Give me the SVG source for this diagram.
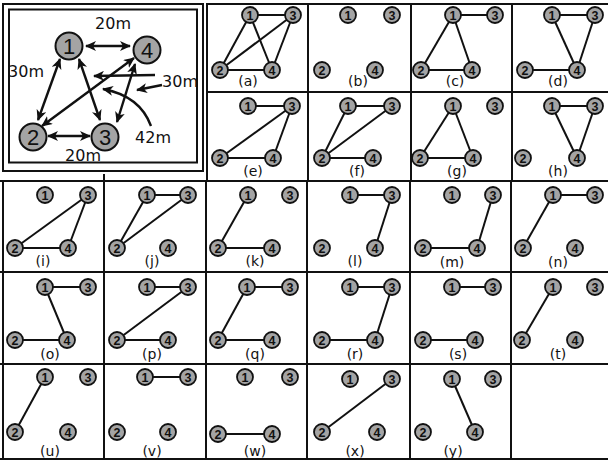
<svg xmlns="http://www.w3.org/2000/svg" width="608" height="463" viewBox="0 0 608 463">
<style>
.grid{stroke:#111;stroke-width:2;fill:none}
.e{stroke:#111;stroke-width:2;fill:none}
.a{stroke:#111;stroke-width:2.4;fill:none}
.node circle{fill:#a4a4a4;stroke:#111;stroke-width:1.8}
.node text{font-family:"Liberation Sans",Arial,sans-serif;font-size:12.5px;font-weight:bold;fill:#111;text-anchor:middle}
.big circle{fill:#a4a4a4;stroke:#111;stroke-width:2}
.big text{font-family:"Liberation Sans",Arial,sans-serif;font-size:22px;fill:#111;text-anchor:middle}
.lab{font-family:"DejaVu Sans",sans-serif;font-size:14px;fill:#111;text-anchor:middle}
.dist{font-family:"DejaVu Sans",sans-serif;font-size:16px;fill:#111;text-anchor:middle}
</style>
<defs>
<marker id="ah" viewBox="0 0 12 10" markerWidth="12" markerHeight="10" refX="10" refY="5" markerUnits="userSpaceOnUse" orient="auto-start-reverse">
<path d="M0,0 L11,5 L0,10 L3,5 z" fill="#111"/>
</marker>
</defs>
<rect width="608" height="463" fill="#fff"/>
<g id="grid">
<rect class="grid" x="3" y="4" width="200" height="167"/>
<rect class="grid" x="9" y="9.5" width="188" height="153"/>
<line class="grid" x1="207" y1="4" x2="608" y2="4"/>
<line class="grid" x1="207" y1="92" x2="608" y2="92"/>
<line class="grid" x1="0" y1="181" x2="608" y2="181"/>
<line class="grid" x1="0" y1="272" x2="608" y2="272"/>
<line class="grid" x1="0" y1="364" x2="608" y2="364"/>
<line class="grid" x1="0" y1="459" x2="608" y2="459"/>
<line class="grid" x1="207" y1="3" x2="207" y2="181"/>
<line class="grid" x1="308" y1="3" x2="308" y2="181"/>
<line class="grid" x1="411" y1="3" x2="411" y2="181"/>
<line class="grid" x1="512" y1="3" x2="512" y2="181"/>
<line class="grid" x1="3" y1="181" x2="3" y2="460"/>
<line class="grid" x1="104" y1="174" x2="104" y2="460"/>
<line class="grid" x1="206" y1="181" x2="206" y2="460"/>
<line class="grid" x1="307" y1="181" x2="307" y2="460"/>
<line class="grid" x1="410" y1="181" x2="410" y2="460"/>
<line class="grid" x1="511" y1="181" x2="511" y2="460"/>
</g>
<g id="connectors">
<line class="a" x1="86" y1="46" x2="130" y2="46" marker-start="url(#ah)" marker-end="url(#ah)"/>
<line class="a" x1="60" y1="59" x2="38" y2="120" marker-start="url(#ah)" marker-end="url(#ah)"/>
<line class="a" x1="79" y1="59" x2="100" y2="120" marker-start="url(#ah)" marker-end="url(#ah)"/>
<line class="a" x1="134" y1="58" x2="42" y2="126" marker-start="url(#ah)" marker-end="url(#ah)"/>
<line class="a" x1="135" y1="64" x2="117" y2="122" marker-start="url(#ah)" marker-end="url(#ah)"/>
<line class="a" x1="48" y1="136" x2="90" y2="136" marker-start="url(#ah)" marker-end="url(#ah)"/>
<line class="a" x1="155" y1="75" x2="94" y2="76" marker-end="url(#ah)"/>
<line class="a" x1="162" y1="85" x2="137" y2="90" marker-end="url(#ah)"/>
<path class="a" d="M151,126 Q140,96 103,89" marker-end="url(#ah)"/>
<line class="e" x1="250" y1="15" x2="293" y2="15"/><line class="e" x1="250" y1="15" x2="220" y2="70"/><line class="e" x1="250" y1="15" x2="272" y2="70"/><line class="e" x1="220" y1="70" x2="293" y2="15"/><line class="e" x1="293" y1="15" x2="272" y2="70"/><line class="e" x1="220" y1="70" x2="272" y2="70"/>
<line class="e" x1="453" y1="15" x2="495" y2="15"/><line class="e" x1="453" y1="15" x2="421" y2="70"/><line class="e" x1="453" y1="15" x2="472" y2="70"/><line class="e" x1="421" y1="70" x2="472" y2="70"/>
<line class="e" x1="552" y1="15" x2="595" y2="15"/><line class="e" x1="552" y1="15" x2="577" y2="70"/><line class="e" x1="595" y1="15" x2="577" y2="70"/><line class="e" x1="525" y1="70" x2="577" y2="70"/>
<line class="e" x1="248" y1="106" x2="292" y2="106"/><line class="e" x1="220" y1="158" x2="292" y2="106"/><line class="e" x1="292" y1="106" x2="273" y2="158"/><line class="e" x1="220" y1="158" x2="273" y2="158"/>
<line class="e" x1="348" y1="106" x2="392" y2="106"/><line class="e" x1="348" y1="106" x2="322" y2="158"/><line class="e" x1="322" y1="158" x2="392" y2="106"/><line class="e" x1="322" y1="158" x2="373" y2="158"/>
<line class="e" x1="453" y1="106" x2="420" y2="158"/><line class="e" x1="453" y1="106" x2="473" y2="158"/><line class="e" x1="420" y1="158" x2="473" y2="158"/>
<line class="e" x1="552" y1="106" x2="595" y2="106"/><line class="e" x1="552" y1="106" x2="577" y2="158"/><line class="e" x1="595" y1="106" x2="577" y2="158"/>
<line class="e" x1="15" y1="248" x2="88" y2="195"/><line class="e" x1="88" y1="195" x2="68" y2="248"/><line class="e" x1="15" y1="248" x2="68" y2="248"/>
<line class="e" x1="147" y1="195" x2="188" y2="195"/><line class="e" x1="147" y1="195" x2="117" y2="248"/><line class="e" x1="117" y1="248" x2="188" y2="195"/>
<line class="e" x1="248" y1="195" x2="218" y2="248"/><line class="e" x1="218" y1="248" x2="272" y2="248"/>
<line class="e" x1="350" y1="195" x2="392" y2="195"/><line class="e" x1="392" y1="195" x2="375" y2="248"/>
<line class="e" x1="493" y1="195" x2="477" y2="248"/><line class="e" x1="423" y1="248" x2="477" y2="248"/>
<line class="e" x1="553" y1="195" x2="595" y2="195"/><line class="e" x1="553" y1="195" x2="523" y2="248"/>
<line class="e" x1="45" y1="287" x2="88" y2="287"/><line class="e" x1="45" y1="287" x2="67" y2="340"/><line class="e" x1="15" y1="340" x2="67" y2="340"/>
<line class="e" x1="147" y1="287" x2="188" y2="287"/><line class="e" x1="117" y1="340" x2="188" y2="287"/><line class="e" x1="117" y1="340" x2="168" y2="340"/>
<line class="e" x1="247" y1="287" x2="290" y2="287"/><line class="e" x1="247" y1="287" x2="218" y2="340"/><line class="e" x1="218" y1="340" x2="272" y2="340"/>
<line class="e" x1="350" y1="287" x2="392" y2="287"/><line class="e" x1="392" y1="287" x2="375" y2="340"/><line class="e" x1="322" y1="340" x2="375" y2="340"/>
<line class="e" x1="452" y1="287" x2="493" y2="287"/><line class="e" x1="423" y1="340" x2="475" y2="340"/>
<line class="e" x1="553" y1="287" x2="522" y2="340"/>
<line class="e" x1="45" y1="377" x2="15" y2="432"/>
<line class="e" x1="145" y1="377" x2="188" y2="377"/>
<line class="e" x1="218" y1="434" x2="272" y2="434"/>
<line class="e" x1="322" y1="432" x2="392" y2="379"/>
<line class="e" x1="452" y1="379" x2="475" y2="432"/>
</g>
<g id="main-labels">
<text class="dist" x="113" y="29">20m</text>
<text class="dist" x="26" y="77">30m</text>
<text class="dist" x="180" y="87">30m</text>
<text class="dist" x="153" y="143">42m</text>
<text class="dist" x="83" y="161">20m</text>
</g>
<g id="M1" class="big"><circle cx="69" cy="46" r="13.5"/><text x="69" y="54">1</text></g>
<g id="M4" class="big"><circle cx="147" cy="50" r="13.5"/><text x="147" y="58">4</text></g>
<g id="M2" class="big"><circle cx="33" cy="137" r="13.5"/><text x="33" y="145">2</text></g>
<g id="M3" class="big"><circle cx="105" cy="137" r="13.5"/><text x="105" y="145">3</text></g>

<g id="a1" class="node"><circle cx="250" cy="15" r="8"/><text x="250" y="19.5">1</text></g>
<g id="a3" class="node"><circle cx="293" cy="15" r="8"/><text x="293" y="19.5">3</text></g>
<g id="a2" class="node"><circle cx="220" cy="70" r="8"/><text x="220" y="74.5">2</text></g>
<g id="a4" class="node"><circle cx="272" cy="70" r="8"/><text x="272" y="74.5">4</text></g>
<text class="lab" x="248" y="86">(a)</text>

<g id="b1" class="node"><circle cx="348" cy="15" r="8"/><text x="348" y="19.5">1</text></g>
<g id="b3" class="node"><circle cx="392" cy="15" r="8"/><text x="392" y="19.5">3</text></g>
<g id="b2" class="node"><circle cx="322" cy="70" r="8"/><text x="322" y="74.5">2</text></g>
<g id="b4" class="node"><circle cx="375" cy="70" r="8"/><text x="375" y="74.5">4</text></g>
<text class="lab" x="358" y="86">(b)</text>

<g id="c1" class="node"><circle cx="453" cy="15" r="8"/><text x="453" y="19.5">1</text></g>
<g id="c3" class="node"><circle cx="495" cy="15" r="8"/><text x="495" y="19.5">3</text></g>
<g id="c2" class="node"><circle cx="421" cy="70" r="8"/><text x="421" y="74.5">2</text></g>
<g id="c4" class="node"><circle cx="472" cy="70" r="8"/><text x="472" y="74.5">4</text></g>
<text class="lab" x="455" y="86">(c)</text>

<g id="d1" class="node"><circle cx="552" cy="15" r="8"/><text x="552" y="19.5">1</text></g>
<g id="d3" class="node"><circle cx="595" cy="15" r="8"/><text x="595" y="19.5">3</text></g>
<g id="d2" class="node"><circle cx="525" cy="70" r="8"/><text x="525" y="74.5">2</text></g>
<g id="d4" class="node"><circle cx="577" cy="70" r="8"/><text x="577" y="74.5">4</text></g>
<text class="lab" x="558" y="86">(d)</text>

<g id="e1" class="node"><circle cx="248" cy="106" r="8"/><text x="248" y="110.5">1</text></g>
<g id="e3" class="node"><circle cx="292" cy="106" r="8"/><text x="292" y="110.5">3</text></g>
<g id="e2" class="node"><circle cx="220" cy="158" r="8"/><text x="220" y="162.5">2</text></g>
<g id="e4" class="node"><circle cx="273" cy="158" r="8"/><text x="273" y="162.5">4</text></g>
<text class="lab" x="253" y="176">(e)</text>

<g id="f1" class="node"><circle cx="348" cy="106" r="8"/><text x="348" y="110.5">1</text></g>
<g id="f3" class="node"><circle cx="392" cy="106" r="8"/><text x="392" y="110.5">3</text></g>
<g id="f2" class="node"><circle cx="322" cy="158" r="8"/><text x="322" y="162.5">2</text></g>
<g id="f4" class="node"><circle cx="373" cy="158" r="8"/><text x="373" y="162.5">4</text></g>
<text class="lab" x="357" y="176">(f)</text>

<g id="g1" class="node"><circle cx="453" cy="106" r="8"/><text x="453" y="110.5">1</text></g>
<g id="g3" class="node"><circle cx="495" cy="106" r="8"/><text x="495" y="110.5">3</text></g>
<g id="g2" class="node"><circle cx="420" cy="158" r="8"/><text x="420" y="162.5">2</text></g>
<g id="g4" class="node"><circle cx="473" cy="158" r="8"/><text x="473" y="162.5">4</text></g>
<text class="lab" x="457" y="176">(g)</text>

<g id="h1" class="node"><circle cx="552" cy="106" r="8"/><text x="552" y="110.5">1</text></g>
<g id="h3" class="node"><circle cx="595" cy="106" r="8"/><text x="595" y="110.5">3</text></g>
<g id="h2" class="node"><circle cx="523" cy="158" r="8"/><text x="523" y="162.5">2</text></g>
<g id="h4" class="node"><circle cx="577" cy="158" r="8"/><text x="577" y="162.5">4</text></g>
<text class="lab" x="558" y="176">(h)</text>

<g id="i1" class="node"><circle cx="45" cy="195" r="8"/><text x="45" y="199.5">1</text></g>
<g id="i3" class="node"><circle cx="88" cy="195" r="8"/><text x="88" y="199.5">3</text></g>
<g id="i2" class="node"><circle cx="15" cy="248" r="8"/><text x="15" y="252.5">2</text></g>
<g id="i4" class="node"><circle cx="68" cy="248" r="8"/><text x="68" y="252.5">4</text></g>
<text class="lab" x="43" y="266">(i)</text>

<g id="j1" class="node"><circle cx="147" cy="195" r="8"/><text x="147" y="199.5">1</text></g>
<g id="j3" class="node"><circle cx="188" cy="195" r="8"/><text x="188" y="199.5">3</text></g>
<g id="j2" class="node"><circle cx="117" cy="248" r="8"/><text x="117" y="252.5">2</text></g>
<g id="j4" class="node"><circle cx="168" cy="248" r="8"/><text x="168" y="252.5">4</text></g>
<text class="lab" x="152" y="266">(j)</text>

<g id="k1" class="node"><circle cx="248" cy="195" r="8"/><text x="248" y="199.5">1</text></g>
<g id="k3" class="node"><circle cx="290" cy="195" r="8"/><text x="290" y="199.5">3</text></g>
<g id="k2" class="node"><circle cx="218" cy="248" r="8"/><text x="218" y="252.5">2</text></g>
<g id="k4" class="node"><circle cx="272" cy="248" r="8"/><text x="272" y="252.5">4</text></g>
<text class="lab" x="255" y="266">(k)</text>

<g id="l1" class="node"><circle cx="350" cy="195" r="8"/><text x="350" y="199.5">1</text></g>
<g id="l3" class="node"><circle cx="392" cy="195" r="8"/><text x="392" y="199.5">3</text></g>
<g id="l2" class="node"><circle cx="322" cy="248" r="8"/><text x="322" y="252.5">2</text></g>
<g id="l4" class="node"><circle cx="375" cy="248" r="8"/><text x="375" y="252.5">4</text></g>
<text class="lab" x="355" y="266">(l)</text>

<g id="m1" class="node"><circle cx="452" cy="195" r="8"/><text x="452" y="199.5">1</text></g>
<g id="m3" class="node"><circle cx="493" cy="195" r="8"/><text x="493" y="199.5">3</text></g>
<g id="m2" class="node"><circle cx="423" cy="248" r="8"/><text x="423" y="252.5">2</text></g>
<g id="m4" class="node"><circle cx="477" cy="248" r="8"/><text x="477" y="252.5">4</text></g>
<text class="lab" x="452" y="267">(m)</text>

<g id="n1" class="node"><circle cx="553" cy="195" r="8"/><text x="553" y="199.5">1</text></g>
<g id="n3" class="node"><circle cx="595" cy="195" r="8"/><text x="595" y="199.5">3</text></g>
<g id="n2" class="node"><circle cx="523" cy="248" r="8"/><text x="523" y="252.5">2</text></g>
<g id="n4" class="node"><circle cx="575" cy="248" r="8"/><text x="575" y="252.5">4</text></g>
<text class="lab" x="558" y="267">(n)</text>

<g id="o1" class="node"><circle cx="45" cy="287" r="8"/><text x="45" y="291.5">1</text></g>
<g id="o3" class="node"><circle cx="88" cy="287" r="8"/><text x="88" y="291.5">3</text></g>
<g id="o2" class="node"><circle cx="15" cy="340" r="8"/><text x="15" y="344.5">2</text></g>
<g id="o4" class="node"><circle cx="67" cy="340" r="8"/><text x="67" y="344.5">4</text></g>
<text class="lab" x="50" y="359">(o)</text>

<g id="p1" class="node"><circle cx="147" cy="287" r="8"/><text x="147" y="291.5">1</text></g>
<g id="p3" class="node"><circle cx="188" cy="287" r="8"/><text x="188" y="291.5">3</text></g>
<g id="p2" class="node"><circle cx="117" cy="340" r="8"/><text x="117" y="344.5">2</text></g>
<g id="p4" class="node"><circle cx="168" cy="340" r="8"/><text x="168" y="344.5">4</text></g>
<text class="lab" x="152" y="359">(p)</text>

<g id="q1" class="node"><circle cx="247" cy="287" r="8"/><text x="247" y="291.5">1</text></g>
<g id="q3" class="node"><circle cx="290" cy="287" r="8"/><text x="290" y="291.5">3</text></g>
<g id="q2" class="node"><circle cx="218" cy="340" r="8"/><text x="218" y="344.5">2</text></g>
<g id="q4" class="node"><circle cx="272" cy="340" r="8"/><text x="272" y="344.5">4</text></g>
<text class="lab" x="255" y="359">(q)</text>

<g id="r1" class="node"><circle cx="350" cy="287" r="8"/><text x="350" y="291.5">1</text></g>
<g id="r3" class="node"><circle cx="392" cy="287" r="8"/><text x="392" y="291.5">3</text></g>
<g id="r2" class="node"><circle cx="322" cy="340" r="8"/><text x="322" y="344.5">2</text></g>
<g id="r4" class="node"><circle cx="375" cy="340" r="8"/><text x="375" y="344.5">4</text></g>
<text class="lab" x="355" y="359">(r)</text>

<g id="s1" class="node"><circle cx="452" cy="287" r="8"/><text x="452" y="291.5">1</text></g>
<g id="s3" class="node"><circle cx="493" cy="287" r="8"/><text x="493" y="291.5">3</text></g>
<g id="s2" class="node"><circle cx="423" cy="340" r="8"/><text x="423" y="344.5">2</text></g>
<g id="s4" class="node"><circle cx="475" cy="340" r="8"/><text x="475" y="344.5">4</text></g>
<text class="lab" x="458" y="359">(s)</text>

<g id="t1" class="node"><circle cx="553" cy="287" r="8"/><text x="553" y="291.5">1</text></g>
<g id="t3" class="node"><circle cx="595" cy="287" r="8"/><text x="595" y="291.5">3</text></g>
<g id="t2" class="node"><circle cx="522" cy="340" r="8"/><text x="522" y="344.5">2</text></g>
<g id="t4" class="node"><circle cx="575" cy="340" r="8"/><text x="575" y="344.5">4</text></g>
<text class="lab" x="558" y="359">(t)</text>

<g id="u1" class="node"><circle cx="45" cy="377" r="8"/><text x="45" y="381.5">1</text></g>
<g id="u3" class="node"><circle cx="88" cy="377" r="8"/><text x="88" y="381.5">3</text></g>
<g id="u2" class="node"><circle cx="15" cy="432" r="8"/><text x="15" y="436.5">2</text></g>
<g id="u4" class="node"><circle cx="68" cy="432" r="8"/><text x="68" y="436.5">4</text></g>
<text class="lab" x="50" y="456">(u)</text>

<g id="v1" class="node"><circle cx="145" cy="377" r="8"/><text x="145" y="381.5">1</text></g>
<g id="v3" class="node"><circle cx="188" cy="377" r="8"/><text x="188" y="381.5">3</text></g>
<g id="v2" class="node"><circle cx="117" cy="432" r="8"/><text x="117" y="436.5">2</text></g>
<g id="v4" class="node"><circle cx="168" cy="432" r="8"/><text x="168" y="436.5">4</text></g>
<text class="lab" x="152" y="456">(v)</text>

<g id="w1" class="node"><circle cx="245" cy="377" r="8"/><text x="245" y="381.5">1</text></g>
<g id="w3" class="node"><circle cx="290" cy="377" r="8"/><text x="290" y="381.5">3</text></g>
<g id="w2" class="node"><circle cx="218" cy="434" r="8"/><text x="218" y="438.5">2</text></g>
<g id="w4" class="node"><circle cx="272" cy="434" r="8"/><text x="272" y="438.5">4</text></g>
<text class="lab" x="255" y="456">(w)</text>

<g id="x1" class="node"><circle cx="350" cy="379" r="8"/><text x="350" y="383.5">1</text></g>
<g id="x3" class="node"><circle cx="392" cy="379" r="8"/><text x="392" y="383.5">3</text></g>
<g id="x2" class="node"><circle cx="322" cy="432" r="8"/><text x="322" y="436.5">2</text></g>
<g id="x4" class="node"><circle cx="377" cy="432" r="8"/><text x="377" y="436.5">4</text></g>
<text class="lab" x="355" y="456">(x)</text>

<g id="y1" class="node"><circle cx="452" cy="379" r="8"/><text x="452" y="383.5">1</text></g>
<g id="y3" class="node"><circle cx="493" cy="379" r="8"/><text x="493" y="383.5">3</text></g>
<g id="y2" class="node"><circle cx="423" cy="432" r="8"/><text x="423" y="436.5">2</text></g>
<g id="y4" class="node"><circle cx="475" cy="432" r="8"/><text x="475" y="436.5">4</text></g>
<text class="lab" x="453" y="456">(y)</text>
</svg>
